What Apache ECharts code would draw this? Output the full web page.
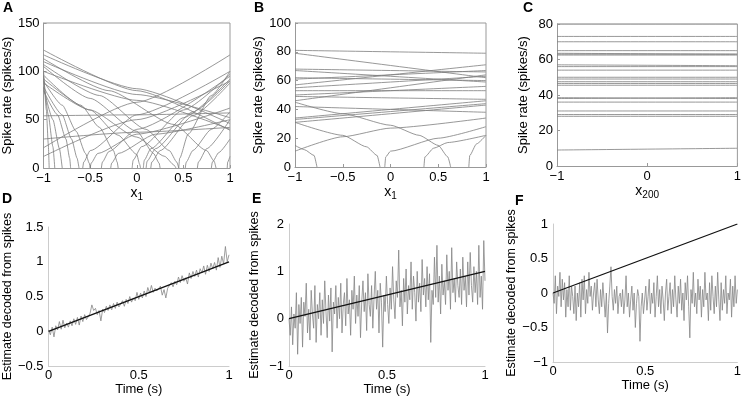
<!DOCTYPE html>
<html>
<head>
<meta charset="utf-8">
<script src="https://cdn.jsdelivr.net/npm/echarts@6/dist/echarts.min.js"></script>
<style>
html, body { margin: 0; padding: 0; background: #fff; }
#chart { width: 744px; height: 397px; }
</style>
</head>
<body>
<div id="chart"></div>
<script>
// tuning curves, each one a list of [x, rate] points
const tuningA = [
  [[-1, 122], [0, 80], [1, 39]],
  [[-1, 117], [0, 82], [1, 46]],
  [[-1, 113], [-0.3, 80], [0.4, 45], [0.75, 18], [0.83, 7], [0.85, 0]],
  [[-1, 110], [0, 76], [1, 52]],
  [[-1, 107], [-0.4, 75], [0.1, 40], [0.35, 18], [0.43, 6], [0.45, 0]],
  [[-1, 105], [-0.5, 72], [0, 38], [0.18, 15], [0.24, 5], [0.25, 0]],
  [[-1, 100], [0, 70], [1, 40]],
  [[-1, 96], [-0.6, 65], [-0.4, 42], [-0.25, 18], [-0.21, 6], [-0.2, 0]],
  [[-1, 92], [-0.5, 60], [-0.2, 34], [0, 14], [0.03, 4], [0.04, 0]],
  [[-1, 90], [-0.8, 65], [-0.65, 38], [-0.55, 15], [-0.51, 5], [-0.5, 0]],
  [[-1, 88], [-0.5, 60], [0, 32], [0.3, 12], [0.4, 3], [0.42, 0]],
  [[-1, 84], [-0.8, 55], [-0.7, 30], [-0.64, 10], [-0.62, 0]],
  [[-1, 80], [-0.85, 55], [-0.76, 30], [-0.72, 10], [-0.71, 0]],
  [[-1, 100], [-0.97, 60], [-0.95, 25], [-0.94, 0]],
  [[-1, 95], [-0.95, 55], [-0.9, 22], [-0.88, 0]],
  [[-1, 83], [-0.9, 50], [-0.83, 20], [-0.8, 0]],
  [[-1, 12], [0, 50], [1, 90]],
  [[-1, 21], [0, 68], [1, 117]],
  [[-1, 30], [0, 37], [1, 42]],
  [[-1, 54], [0, 55], [1, 57]],
  [[-0.58, 0], [-0.57, 6], [-0.5, 18], [0, 55], [1, 100]],
  [[-0.5, 0], [-0.49, 5], [-0.42, 15], [0, 35], [1, 62]],
  [[-0.38, 0], [-0.37, 6], [-0.3, 17], [0, 40], [1, 95]],
  [[-0.28, 0], [-0.27, 5], [-0.2, 15], [0.2, 35], [1, 50]],
  [[-0.05, 0], [-0.04, 8], [0.05, 22], [0.5, 60], [1, 97]],
  [[0.07, 0], [0.08, 8], [0.15, 20], [0.5, 52], [1, 92]],
  [[0.1, 0], [0.11, 7], [0.2, 20], [0.6, 58], [1, 90]],
  [[0.15, 0], [0.16, 6], [0.25, 18], [0.6, 54], [1, 88]],
  [[0.45, 0], [0.46, 10], [0.55, 35], [0.8, 75], [1, 100]],
  [[0.52, 0], [0.53, 6], [0.6, 18], [0.8, 40], [1, 58]],
  [[0.65, 0], [0.66, 6], [0.75, 20], [1, 50]],
  [[0.8, 0], [0.81, 6], [0.88, 16], [1, 30]],
  [[0.97, 0], [0.975, 6], [1, 12]]
];

const tuningB = [
  [[-1, 81], [1, 79]],
  [[-1, 79], [1, 62]],
  [[-1, 68], [1, 66]],
  [[-1, 67], [1, 59]],
  [[-1, 62], [1, 60]],
  [[-1, 61], [1, 67]],
  [[-1, 57], [1, 71]],
  [[-1, 55], [1, 63]],
  [[-1, 53], [1, 53]],
  [[-1, 50], [1, 56]],
  [[-1, 49], [1, 47]],
  [[-1, 46], [1, 64]],
  [[-1, 45], [-0.5, 37], [0, 29], [0.3, 22], [0.5, 15], [0.6, 7], [0.63, 0]],
  [[-1, 42], [1, 38]],
  [[-1, 34], [1, 46]],
  [[-1, 33], [1, 44]],
  [[-1, 31], [1, 43]],
  [[-1, 31], [-0.5, 22], [-0.25, 14], [-0.14, 8], [-0.11, 0]],
  [[-1, 15], [-0.9, 12], [-0.8, 8], [-0.77, 0]],
  [[-1, 11], [-0.5, 21], [0, 27], [1, 34]],
  [[-0.06, 0], [-0.05, 7], [0, 11], [0.5, 20], [1, 28]],
  [[0.35, 0], [0.36, 7], [0.45, 13], [0.6, 17], [1, 22]],
  [[0.82, 0], [0.83, 8], [0.9, 16], [1, 22]]
];

// panel C: rate at x200 = -1 and x200 = 1
const tuningC = [
  [80, 80], [73, 73], [70, 70], [65, 65], [63.5, 63], [63, 63], [62.5, 62.5],
  [57, 56.5], [56, 56], [54, 54], [50, 50], [49, 49], [47.5, 47.5], [46.5, 46.5],
  [45.5, 45.5], [38.5, 38], [38, 38.5], [36, 36], [31, 31], [29, 29], [28, 28], [9, 10]
];

// decoded estimates, evenly sampled over 0..1 s
const decodedD = [
  0.02, -0.05, 0.06, -0.08, 0.08, 0.02, 0.14, 0.03, 0.16, 0.05,
  0.12, 0.06, 0.15, 0.08, 0.18, 0.1, 0.2, 0.09, 0.22, 0.14,
  0.24, 0.17, 0.21, 0.26, 0.38, 0.3, 0.33, 0.24, 0.3, 0.15,
  0.32, 0.27, 0.36, 0.3, 0.38, 0.31, 0.4, 0.33, 0.42, 0.35,
  0.37, 0.44, 0.36, 0.46, 0.4, 0.5, 0.42, 0.48, 0.44, 0.56,
  0.46, 0.55, 0.48, 0.58, 0.5, 0.63, 0.55, 0.66, 0.56, 0.62,
  0.58, 0.6, 0.65, 0.52, 0.6, 0.48, 0.62, 0.66, 0.7, 0.64,
  0.72, 0.67, 0.78, 0.7, 0.8, 0.72, 0.77, 0.68, 0.84, 0.76,
  0.86, 0.79, 0.88, 0.78, 0.9, 0.84, 0.94, 0.82, 0.95, 0.86,
  0.98, 0.9, 0.99, 0.88, 1.06, 0.92, 1.08, 0.97, 1.22, 1.0, 1.1
];

const decodedE = [
  0.0, -0.35, 0.25, -0.55, 0.1, -0.2, 0.55, -0.75, 0.3, -0.1, 0.45, -0.6, 0.35, 0.05, 0.75, -0.3, 0.2, -0.45, 0.6, 0.1,
  -0.2, 0.7, -0.5, 0.3, 0.0, 0.55, -0.35, 0.4, -0.1, 0.8, 0.15, -0.4, 0.5, -0.05, 0.65, -0.7, 0.35, 0.1, 0.7, -0.2,
  0.45, 0.0, 0.75, -0.3, 0.3, 0.55, -0.15, 0.85, 0.1, 0.4, -0.35, 0.6, 0.2, 0.9, -0.1, 0.5, 0.05, 0.7, -0.4, 0.35,
  0.8, 0.15, 0.55, -0.25, 0.95, 0.3, 0.05, 0.7, -0.2, 0.45, 1.0, 0.2, 0.6, -0.3, 0.75, 0.35, -0.6, 0.5, 0.15, 0.9,
  0.3, -0.1, 0.65, 0.2, 1.1, 0.4, 0.0, 0.8, 0.45, 1.45, 0.25, 0.6, -0.15, 0.85, 0.35, 1.05, 0.1, 0.7, 0.4, 1.2,
  0.2, 0.9, 0.55, -0.05, 1.0, 0.35, 0.75, 0.15, 1.25, 0.5, 0.85, 0.25, 1.1, 0.4, 0.95, -0.5, 0.6, 0.3, 1.3, 0.45,
  1.55, 0.35, 0.9, 0.1, 1.15, 0.5, 0.8, 0.3, 1.35, 0.6, 1.0, 0.2, 1.5, 0.55, 0.85, 0.35, 1.2, 0.7, 0.45, 1.05,
  0.3, 1.3, 0.6, 0.9, 0.25, 1.2, 0.5, 1.4, 0.7, 0.35, 1.1, 0.55, 1.0, 0.3, 1.55, 0.45, 0.9, 0.2, 1.65, 0.8
];

const decodedF = [
  0.0, -0.15, 0.25, -0.3, 0.1, -0.05, 0.3, -0.2, 0.2, -0.1, 0.15, -0.35, 0.05, -0.2, 0.25, -0.25, 0.1, -0.05, -0.3, 0.1,
  -0.4, 0.0, -0.2, 0.15, -0.35, 0.2, -0.1, 0.25, -0.3, 0.05, -0.15, 0.3, -0.05, 0.1, -0.25, 0.0, 0.15, -0.2, 0.2, -0.1,
  -0.3, 0.05, -0.2, 0.15, -0.1, -0.35, 0.0, -0.58, -0.15, 0.1, 0.38, -0.05, -0.25, 0.05, -0.15, 0.1, -0.3, -0.05, 0.0, -0.2,
  0.05, -0.3, -0.1, 0.25, -0.2, 0.0, -0.35, -0.1, 0.1, -0.25, 0.0, -0.5, -0.15, 0.05, -0.05, -0.7, -0.2, 0.0, -0.3, -0.1,
  0.1, -0.25, -0.05, 0.2, -0.3, 0.0, -0.15, 0.15, -0.35, -0.05, 0.25, -0.2, 0.05, -0.3, 0.1, -0.1, -0.4, 0.0, 0.2, -0.25,
  -0.05, 0.15, -0.3, 0.05, -0.2, 0.25, -0.1, -0.35, 0.1, -0.15, 0.2, -0.25, 0.0, -0.4, 0.15, -0.1, 0.25, -0.2, -0.65, 0.05,
  -0.15, 0.3, -0.2, 0.0, -0.3, 0.2, -0.1, 0.1, -0.35, 0.05, -0.2, 0.3, -0.1, 0.0, -0.4, 0.15, -0.25, 0.25, -0.05, -0.3,
  0.1, -0.2, 0.3, -0.1, -0.4, 0.15, -0.25, 0.05, -0.15, 0.25, -0.3, 0.0, -0.1, 0.2, -0.35, 0.1, -0.2, 0.25, -0.15, 0.05
];

// the represented signal x(t) = t
const targetLine = [[0, 0], [1, 1]];

// axis ranges of the three boxed tuning-curve panels: [xMin, xMax, yMin, yMax]
const boxRanges = [[-1, 1, 0, 150], [-1, 1, 0, 100], [-1, 1, 0, 80]];

const FONT = '"Liberation Sans", Arial, sans-serif';
const fmt = (v) => String(v).replace("-", "\u2212");
const withTime = (vals) => vals.map((v, i) => [i / (vals.length - 1), v]);
const BOX = "#999";

let chart = echarts.init(document.getElementById("chart"));

let grids = [
  { left: 38, top: 23, width: 192, height: 145 },
  { left: 295, top: 23, width: 191, height: 144 },
  { left: 557, top: 24, width: 185, height: 142 },
  { left: 42, top: 227, width: 187, height: 142 },
  { left: 289, top: 224, width: 196, height: 144 },
  { left: 553, top: 224, width: 189, height: 138 },
];

const labelStyle = { color: "#000", fontSize: 13, fontFamily: FONT, formatter: fmt };
const subRich = {
  v: { fontSize: 14, fontFamily: FONT, color: "#000" },
  s: { fontSize: 10, fontFamily: FONT, color: "#000", padding: [9, 0, 0, 0] },
};

function boxX(gi, min, max, interval, name) {
  return {
    type: "value", gridIndex: gi, min, max, interval,
    name, nameLocation: "middle", nameGap: 13,
    nameTextStyle: { rich: subRich },
    axisLine: { onZero: false, lineStyle: { color: BOX, width: 1 } },
    axisTick: { inside: true, length: 3, lineStyle: { color: BOX } },
    axisLabel: Object.assign({ margin: 4 }, labelStyle),
    splitLine: { show: false },
  };
}
function boxY(gi, min, max, interval) {
  return {
    type: "value", gridIndex: gi, min, max, interval,
    name: "Spike rate (spikes/s)", nameLocation: "middle", nameGap: 27,
    nameTextStyle: { fontSize: 13, fontFamily: FONT, color: "#000" },
    axisLine: { show: true, onZero: false, lineStyle: { color: BOX, width: 1 } },
    axisTick: { inside: true, length: 3, lineStyle: { color: BOX } },
    axisLabel: Object.assign({ margin: 4 }, labelStyle),
    splitLine: { show: false },
  };
}
function timeX(gi) {
  return {
    type: "value", gridIndex: gi, min: 0, max: 1, interval: 0.5,
    name: "Time (s)", nameLocation: "middle", nameGap: 16,
    nameTextStyle: { fontSize: 13, fontFamily: FONT, color: "#000" },
    axisLine: { onZero: false, lineStyle: { color: "#ccc", width: 1 } },
    axisTick: { show: false },
    axisLabel: Object.assign({ margin: 3 }, labelStyle),
    splitLine: { show: false },
  };
}
function estY(gi, min, max, interval, gap) {
  return {
    type: "value", gridIndex: gi, min, max, interval,
    name: "Estimate decoded from spikes", nameLocation: "middle", nameGap: gap,
    nameTextStyle: { fontSize: 12.5, fontFamily: FONT, color: "#000" },
    axisLine: { show: true, onZero: false, lineStyle: { color: "#ccc", width: 1 } },
    axisTick: { show: false },
    axisLabel: Object.assign({ margin: 5 }, labelStyle),
    splitLine: { show: false },
  };
}

let series = [];
function curve(data, gi) {
  series.push({
    type: "line", xAxisIndex: gi, yAxisIndex: gi, data,
    symbol: "none", smooth: 0.2, smoothMonotone: "x", silent: true,
    lineStyle: { color: "#7d7d7d", width: 0.8 },
  });
}
tuningA.forEach((c) => curve(c, 0));
tuningB.forEach((c) => curve(c, 1));
tuningC.forEach((c) => curve([[-1, c[0]], [1, c[1]]], 2));

// top and right edges of the boxed panels, from the axis ranges
boxRanges.forEach((r, gi) => {
  series.push({
    type: "line", xAxisIndex: gi, yAxisIndex: gi, clip: false,
    data: [[r[0], r[3]], [r[1], r[3]], [r[1], r[2]]],
    symbol: "none", silent: true, z: 4,
    lineStyle: { color: BOX, width: 1 },
  });
});

[decodedD, decodedE, decodedF].forEach((vals, k) => {
  series.push({
    type: "line", xAxisIndex: 3 + k, yAxisIndex: 3 + k, data: withTime(vals),
    symbol: "none", silent: true,
    lineStyle: { color: "#858585", width: 0.8 },
  });
  series.push({
    type: "line", xAxisIndex: 3 + k, yAxisIndex: 3 + k, data: targetLine,
    symbol: "none", silent: true, z: 3,
    lineStyle: { color: "#111", width: 1.3 },
  });
});

const letter = (t, x, y) => ({
  type: "text", left: x, top: y,
  style: { text: t, font: "bold 14px " + FONT, fill: "#000" },
});

let option = {
  animation: false,
  backgroundColor: "#fff",
  grid: grids,
  xAxis: [
    boxX(0, -1, 1, 0.5, "{v|x}{s|1}"),
    boxX(1, -1, 1, 0.5, "{v|x}{s|1}"),
    boxX(2, -1, 1, 1, "{v|x}{s|200}"),
    timeX(3), timeX(4), timeX(5),
  ],
  yAxis: [
    boxY(0, 0, 150, 50),
    boxY(1, 0, 100, 20),
    boxY(2, 0, 80, 20),
    estY(3, -0.5, 1.5, 0.5, 33),
    estY(4, -1, 2, 1, 28),
    estY(5, -1, 1, 0.5, 35),
  ],
  graphic: [
    letter("A", 3, 1),
    letter("B", 254, 1),
    letter("C", 523, 1),
    letter("D", 2, 192),
    letter("E", 252, 192),
    letter("F", 515, 194),
  ],
  series,
};
chart.setOption(option);
</script>
</body>
</html>
